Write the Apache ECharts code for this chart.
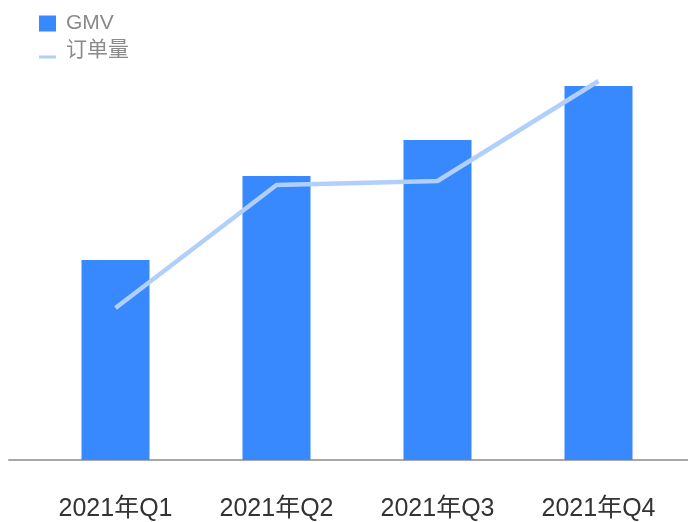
<!DOCTYPE html>
<html>
<head>
<meta charset="utf-8">
<script src="https://cdn.jsdelivr.net/npm/echarts@6/dist/echarts.min.js"></script>
<style>html,body{margin:0;padding:0;background:#fff;}#c{width:688px;height:522px;}</style>
</head>
<body>
<div id="c"></div>
<script>
var categories = ['2021年Q1', '2021年Q2', '2021年Q3', '2021年Q4'];
var gmvValues = [50, 71, 80, 93.5];
var orderValues = [38, 68.75, 69.75, 94.75];

var FONT = '"Liberation Sans", "Noto Sans CJK SC", sans-serif';
var chart = echarts.init(document.getElementById('c'), null, {renderer: 'canvas'});
chart.setOption({
  animation: false,
  backgroundColor: '#ffffff',
  legend: {
    orient: 'vertical',
    left: 39,
    top: 13,
    padding: 0,
    itemWidth: 17,
    itemHeight: 16,
    itemGap: 6,
    textStyle: {color: '#8a8a8a', fontSize: 21, fontFamily: FONT, padding: [0, 0, 0, 5]},
    data: [
      {name: 'GMV', icon: 'rect'},
      {name: '订单量', icon: 'path://M0,0L0,0ZM0,13L17,13L17,16L0,16Z'}
    ]
  },
  grid: [
    {left: 35, right: 9, top: 60, bottom: 62},
    {left: 9, right: 0, top: 60, bottom: 62}
  ],
  xAxis: [
    {
      type: 'category', gridIndex: 0, data: categories,
      axisLine: {show: false}, axisTick: {show: false},
      axisLabel: {color: '#333333', fontSize: 25, fontFamily: FONT, margin: 37}
    },
    {
      type: 'value', gridIndex: 1, min: 0, max: 1,
      axisLine: {show: true, onZero: false, lineStyle: {color: '#a8a8a8', width: 2}},
      axisTick: {show: false}, axisLabel: {show: false}, splitLine: {show: false}
    }
  ],
  yAxis: [
    {type: 'value', gridIndex: 0, min: 0, max: 100, show: false, splitLine: {show: false}},
    {type: 'value', gridIndex: 1, min: 0, max: 100, show: false, splitLine: {show: false}}
  ],
  series: [
    {
      name: 'GMV', type: 'bar', xAxisIndex: 0, yAxisIndex: 0,
      data: gmvValues, barWidth: 68,
      itemStyle: {color: '#3888FE'}
    },
    {
      name: '订单量', type: 'line', xAxisIndex: 0, yAxisIndex: 0,
      data: orderValues, symbol: 'none', showSymbol: false,
      color: '#B1CFFB',
      lineStyle: {color: '#B1CFFB', width: 4.5},
      itemStyle: {color: '#B1CFFB'}
    }
  ]
});
</script>
</body>
</html>
